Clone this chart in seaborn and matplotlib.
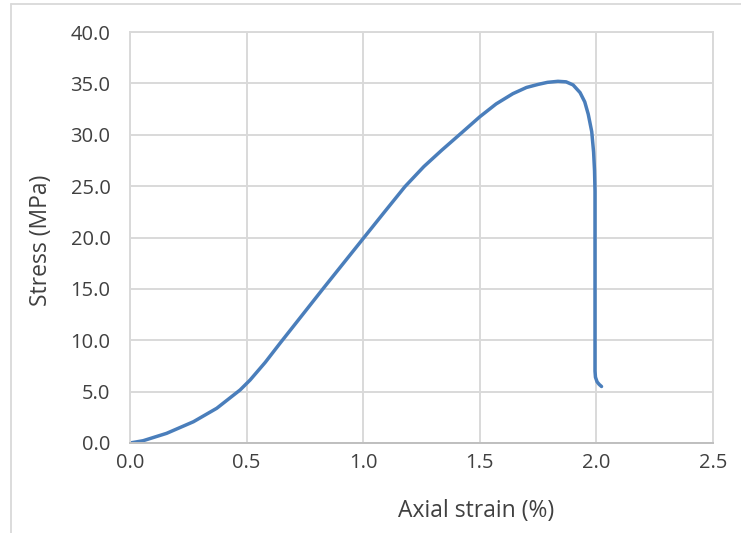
import matplotlib
matplotlib.use("Agg")
import matplotlib.pyplot as plt
from matplotlib.lines import Line2D
import seaborn as sns
import pandas as pd

# Stress–strain curve of the specimen
strain = [0.0, 0.056, 0.157, 0.272, 0.372, 0.472, 0.515, 0.58, 0.643, 0.829,
          1.0, 1.09, 1.179, 1.26, 1.337, 1.42, 1.5, 1.57, 1.642, 1.70,
          1.75, 1.79, 1.835, 1.87, 1.90, 1.93, 1.95, 1.965, 1.98, 1.988,
          1.992, 1.994, 1.994, 1.994, 1.996, 2.003, 2.012, 2.022]
stress = [0.0, 0.22, 0.94, 2.07, 3.38, 5.16, 6.13, 7.85, 9.7, 15.05,
          19.9, 22.45, 24.95, 26.9, 28.5, 30.15, 31.75, 33.0, 34.0, 34.6,
          34.9, 35.1, 35.2, 35.15, 34.85, 34.1, 33.2, 32.0, 30.3, 28.3,
          26.5, 24.5, 15.0, 7.0, 6.4, 5.95, 5.7, 5.5]

x_ticks = [0.0, 0.5, 1.0, 1.5, 2.0, 2.5]
y_ticks = [0.0, 5.0, 10.0, 15.0, 20.0, 25.0, 30.0, 35.0, 40.0]

df = pd.DataFrame({"strain": strain, "stress": stress})

sns.set_theme(style="whitegrid")
plt.rcParams["font.family"] = ["Open Sans", "DejaVu Sans"]

W, H = 741, 533
fig = plt.figure(figsize=(W / 100, H / 100), dpi=100)
ax = fig.add_axes([130 / W, 1 - 443 / H, (713 - 130) / W, (443 - 32) / H])

sns.lineplot(data=df, x="strain", y="stress", sort=False, estimator=None,
             color="#4a7ebb", linewidth=2.5, ax=ax)
ax.lines[0].set_solid_joinstyle("round")
ax.lines[0].set_solid_capstyle("round")

ax.set_xlim(0, 2.5)
ax.set_ylim(0, 40)
ax.set_xticks(x_ticks)
ax.set_yticks(y_ticks)
ax.set_xticklabels([f"{v:.1f}" for v in x_ticks])
ax.set_yticklabels([f"{v:.1f}" for v in y_ticks])
ax.tick_params(axis="both", length=0, labelsize=14.5, labelcolor="#404040")
ax.tick_params(axis="y", pad=14)
ax.tick_params(axis="x", pad=7)

ax.grid(True, color="#d9d9d9", linewidth=1.4)
for side in ["top", "right", "left"]:
    ax.spines[side].set_color("#d9d9d9")
    ax.spines[side].set_linewidth(1.4)
ax.spines["bottom"].set_color("#bfbfbf")
ax.spines["bottom"].set_linewidth(1.4)

ax.set_xlabel("")
ax.set_ylabel("")
fig.text(41 / W, 1 - 240 / H, "Stress (MPa)", fontsize=16.5,
         color="#404040", ha="center", va="center", rotation=90)
fig.text(476 / W, 1 - 511 / H, "Axial strain (%)", fontsize=16.5,
         color="#404040", ha="center", va="center")

# Chart area border
fig.add_artist(Line2D([11 / W, 1.0], [1 - 4 / H, 1 - 4 / H],
                      color="#d9d9d9", linewidth=1.3))
fig.add_artist(Line2D([11 / W, 11 / W], [0.0, 1 - 4 / H],
                      color="#d9d9d9", linewidth=1.3))

fig.savefig("out.png", dpi=100)
